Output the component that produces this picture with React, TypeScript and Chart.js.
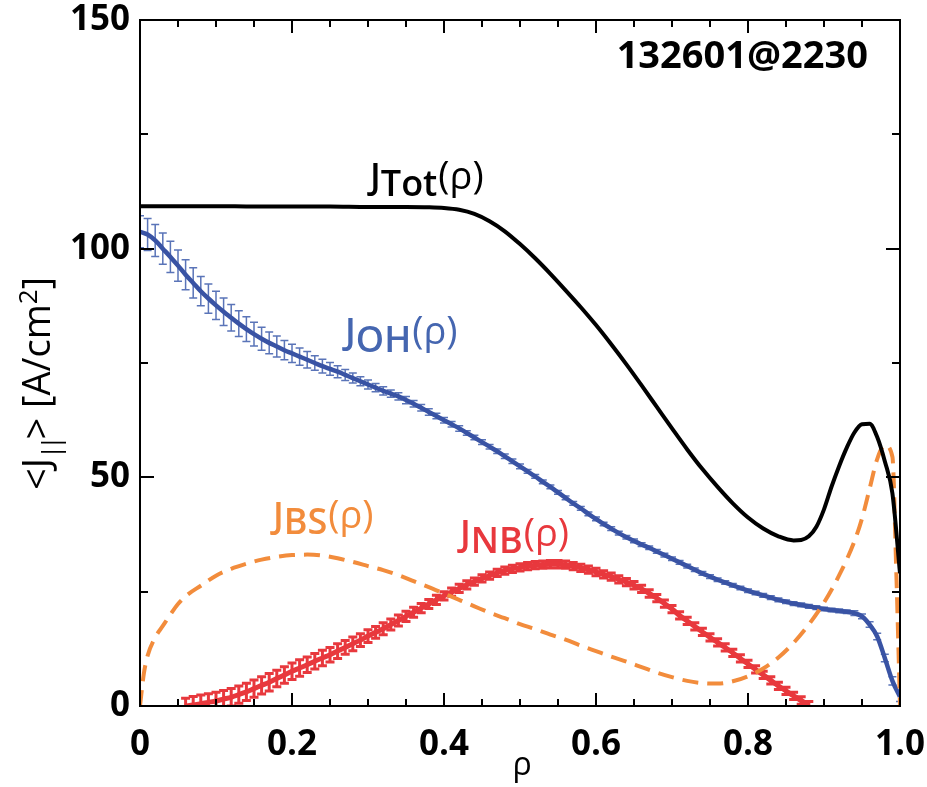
import { useEffect, useRef } from "react";
import { Chart, registerables } from "chart.js";

Chart.register(...registerables);

// ---------------- DATA ----------------
const RHO_FINE = [
  0, 0.01, 0.02, 0.03, 0.04, 0.05, 0.06, 0.07, 0.08, 0.09,
  0.1, 0.11, 0.12, 0.13, 0.14, 0.15, 0.16, 0.17, 0.18, 0.19,
  0.2, 0.21, 0.22, 0.23, 0.24, 0.25, 0.26, 0.27, 0.28, 0.29,
  0.3, 0.31, 0.32, 0.33, 0.34, 0.35, 0.36, 0.37, 0.38, 0.39,
  0.4, 0.41, 0.42, 0.43, 0.44, 0.45, 0.46, 0.47, 0.48, 0.49,
  0.5, 0.51, 0.52, 0.53, 0.54, 0.55, 0.56, 0.57, 0.58, 0.59,
  0.6, 0.61, 0.62, 0.63, 0.64, 0.65, 0.66, 0.67, 0.68, 0.69,
  0.7, 0.71, 0.72, 0.73, 0.74, 0.75, 0.76, 0.77, 0.78, 0.79,
  0.8, 0.81, 0.82, 0.83, 0.84, 0.85, 0.86, 0.87, 0.88, 0.89,
  0.9, 0.91, 0.92, 0.93, 0.94, 0.95, 0.96, 0.97, 0.98, 0.99, 1.0,
];

const J_OH = [
  103.7, 103.1, 101.8, 100.0, 98.2, 96.3, 94.3, 92.5, 90.7, 89.1,
  87.6, 86.2, 84.9, 83.6, 82.4, 81.3, 80.3, 79.4, 78.6, 77.8,
  77.1, 76.4, 75.7, 75.0, 74.3, 73.7, 73.1, 72.4, 71.7, 71.0,
  70.3, 69.6, 68.9, 68.3, 67.7, 66.9, 66.1, 65.2, 64.3, 63.4,
  62.5, 61.6, 60.7, 59.7, 58.7, 57.7, 56.7, 55.7, 54.6, 53.5,
  52.4, 51.3, 50.2, 49.0, 47.9, 46.7, 45.5, 44.3, 43.2, 42.0,
  40.9, 39.8, 38.8, 37.8, 36.9, 36.1, 35.3, 34.6, 33.8, 33.0,
  32.2, 31.4, 30.6, 29.8, 29.0, 28.3, 27.6, 27.0, 26.4, 25.8,
  25.2, 24.7, 24.2, 23.7, 23.2, 22.8, 22.4, 22.1, 21.8, 21.5,
  21.2, 21.0, 20.8, 20.6, 20.3, 19.6, 17.8, 15.2, 10.5, 5.5, 2.0,
];

const J_OH_ERR = [
  3.5, 3.5, 3.5, 3.4, 3.4, 3.4, 3.3, 3.3, 3.2, 3.2,
  3.1, 3.0, 2.9, 2.8, 2.7, 2.6, 2.5, 2.4, 2.3, 2.1,
  2.0, 1.9, 1.8, 1.6, 1.5, 1.4, 1.3, 1.2, 1.1, 1.0,
  1.0, 0.9, 0.9, 0.8, 0.8, 0.8, 0.7, 0.7, 0.7, 0.6,
  0.6, 0.6, 0.6, 0.5, 0.5, 0.5, 0.5, 0.5, 0.5, 0.5,
  0.5, 0.4, 0.4, 0.4, 0.4, 0.4, 0.4, 0.4, 0.4, 0.4,
  0.4, 0.4, 0.4, 0.4, 0.4, 0.4, 0.4, 0.4, 0.4, 0.4,
  0.4, 0.4, 0.4, 0.4, 0.4, 0.4, 0.4, 0.4, 0.4, 0.4,
  0.4, 0.4, 0.4, 0.4, 0.4, 0.4, 0.4, 0.4, 0.4, 0.4,
  0.4, 0.4, 0.4, 0.4, 0.5, 0.5, 0.6, 0.7, 0.8, 0.9, 1.0,
];

const RHO_NB = [
  0.06, 0.07, 0.08, 0.09,
  0.1, 0.11, 0.12, 0.13, 0.14, 0.15, 0.16, 0.17, 0.18, 0.19,
  0.2, 0.21, 0.22, 0.23, 0.24, 0.25, 0.26, 0.27, 0.28, 0.29,
  0.3, 0.31, 0.32, 0.33, 0.34, 0.35, 0.36, 0.37, 0.38, 0.39,
  0.4, 0.41, 0.42, 0.43, 0.44, 0.45, 0.46, 0.47, 0.48, 0.49,
  0.5, 0.51, 0.52, 0.53, 0.54, 0.55, 0.56, 0.57, 0.58, 0.59,
  0.6, 0.61, 0.62, 0.63, 0.64, 0.65, 0.66, 0.67, 0.68, 0.69,
  0.7, 0.71, 0.72, 0.73, 0.74, 0.75, 0.76, 0.77, 0.78, 0.79,
  0.8, 0.81, 0.82, 0.83, 0.84, 0.85, 0.86, 0.87, 0.88,
];

const J_NB = [
  0.0, 0.2, 0.5, 0.8,
  1.1, 1.5, 1.9, 2.5, 3.1, 3.8, 4.5, 5.2, 6.0, 6.8,
  7.6, 8.3, 9.0, 9.8, 10.5, 11.2, 12.0, 12.8, 13.6, 14.4,
  15.3, 16.1, 16.9, 17.8, 18.7, 19.6, 20.5, 21.4, 22.3, 23.2,
  24.1, 24.9, 25.7, 26.5, 27.2, 27.9, 28.5, 29.1, 29.6, 30.0,
  30.3, 30.6, 30.8, 30.9, 31.0, 31.0, 30.9, 30.6, 30.2, 29.8,
  29.3, 28.8, 28.3, 27.7, 27.1, 26.4, 25.6, 24.6, 23.6, 22.4,
  21.2, 19.8, 18.6, 17.4, 16.2, 15.0, 13.9, 12.8, 11.6, 10.4,
  9.2, 8.0, 6.8, 5.6, 4.4, 3.3, 2.2, 1.2, 0.2,
];

const J_NB_ERR = [
  1.7, 1.9, 1.9, 1.9,
  1.9, 1.9, 1.9, 1.9, 1.9, 1.9, 1.9, 1.9, 1.8, 1.8,
  1.8, 1.8, 1.7, 1.7, 1.7, 1.6, 1.6, 1.5, 1.5, 1.4,
  1.4, 1.3, 1.3, 1.2, 1.2, 1.1, 1.1, 1.0, 1.0, 1.0,
  0.9, 0.9, 0.9, 0.9, 0.8, 0.8, 0.8, 0.8, 0.8, 0.8,
  0.8, 0.8, 0.8, 0.8, 0.8, 0.8, 0.8, 0.8, 0.8, 0.8,
  0.8, 0.8, 0.8, 0.8, 0.8, 0.8, 0.8, 0.8, 0.8, 0.8,
  0.8, 0.8, 0.8, 0.8, 0.8, 0.8, 0.8, 0.8, 0.8, 0.8,
  0.8, 0.8, 0.8, 0.8, 0.8, 0.8, 0.8, 0.8, 0.8,
];

const RHO_TOT = [
  0, 0.05, 0.1, 0.15, 0.2, 0.25, 0.3, 0.35, 0.38, 0.4, 0.42, 0.44, 0.46, 0.48,
  0.5, 0.52, 0.54, 0.56, 0.58, 0.6, 0.62, 0.64, 0.66, 0.68, 0.7, 0.72,
  0.74, 0.76, 0.78, 0.8, 0.82, 0.84, 0.86, 0.87, 0.88, 0.89, 0.9, 0.91,
  0.92, 0.93, 0.94, 0.95, 0.96, 0.97, 0.98, 0.99, 1.0,
];
const J_TOT = [
  109.3, 109.3, 109.3, 109.2, 109.2, 109.2, 109.1, 109.1, 109.05, 108.9, 108.5, 107.6, 106.0, 103.8,
  101.0, 97.9, 94.5, 90.9, 87.2, 83.3, 79.1, 74.7, 70.1, 65.4, 60.7, 56.1,
  51.8, 47.9, 44.3, 41.2, 38.8, 37.1, 36.2, 36.3, 37.1, 39.2, 43.0, 48.0,
  52.5, 56.5, 59.8, 61.6, 61.7, 58.8, 53.5, 46.5, 29.0,
];

const RHO_BS = [
  0, 0.005, 0.01, 0.02, 0.03, 0.04, 0.05, 0.06, 0.08, 0.1, 0.12, 0.14,
  0.16, 0.18, 0.2, 0.22, 0.24, 0.26, 0.28, 0.3, 0.32, 0.34, 0.36, 0.38,
  0.4, 0.42, 0.44, 0.46, 0.48, 0.5, 0.52, 0.54, 0.56, 0.58, 0.6, 0.62,
  0.64, 0.66, 0.68, 0.7, 0.72, 0.74, 0.76, 0.78, 0.8, 0.82, 0.84, 0.86,
  0.88, 0.9, 0.92, 0.94, 0.95, 0.96, 0.97, 0.98, 0.99, 0.995, 1.0,
];
const J_BS = [
  0, 7.0, 11.0, 15.0, 17.5, 20.0, 22.3, 24.0, 26.3, 28.5, 30.0, 31.1,
  32.0, 32.6, 33.0, 33.1, 32.9, 32.3, 31.5, 30.6, 29.7, 28.6, 27.3, 26.0,
  24.6, 23.2, 21.8, 20.4, 19.2, 17.9, 16.8, 15.6, 14.5, 13.2, 12.0, 10.8,
  9.7, 8.5, 7.3, 6.3, 5.5, 5.0, 4.9, 5.4, 6.5, 8.2, 10.6, 13.8,
  17.8, 22.6, 28.6, 36.0, 41.0, 47.5, 54.0, 57.0, 54.5, 30.0, 0,
];

const X_TICKS_MINOR = [0.05, 0.1, 0.15, 0.25, 0.3, 0.35, 0.45, 0.5, 0.55, 0.65, 0.7, 0.75, 0.85, 0.9, 0.95];
const X_TICKS_MAJOR = [0.2, 0.4, 0.6, 0.8];
const Y_TICKS_MINOR = [25, 75, 125];
const Y_TICKS_MAJOR = [50, 100];

const SHOT_LABEL = "132601@2230";

// ---------------- STYLE ----------------
const FONT = '"Open Sans", "DejaVu Sans", sans-serif';
const C_BLACK = "#000000";
const C_BLUE = "#3953a4";
const C_BLUE_ERR = "#5a74b8";
const C_BLUE_TXT = "#4566b0";
const C_RED = "#e8383d";
const C_ORANGE = "#f28c3c";

const zip = (xs: number[], ys: number[]) => xs.map((x, i) => ({ x, y: ys[i] }));

const errPlugin = {
  id: "errbars",
  beforeDatasetDraw(chart: any, args: any) {
    const ds: any = chart.data.datasets[args.index];
    if (!ds.errors) return;
    const { ctx, chartArea: a } = chart;
    const xs = chart.scales.x;
    const ys = chart.scales.y;
    ctx.save();
    ctx.beginPath();
    ctx.rect(a.left, a.top, a.right - a.left, a.bottom - a.top);
    ctx.clip();
    ctx.strokeStyle = ds.errColor;
    ctx.lineWidth = ds.errWidth;
    ctx.beginPath();
    ds.data.forEach((p: any, j: number) => {
      const e = ds.errors[j];
      const px = xs.getPixelForValue(p.x);
      const top = ys.getPixelForValue(p.y + e);
      const bot = ys.getPixelForValue(p.y - e);
      ctx.moveTo(px, top);
      ctx.lineTo(px, bot);
      ctx.moveTo(px - ds.capHalf, top);
      ctx.lineTo(px + ds.capHalf, top);
      ctx.moveTo(px - ds.capHalf, bot);
      ctx.lineTo(px + ds.capHalf, bot);
    });
    ctx.stroke();
    ctx.restore();
  },
};

function drawSubLabel(
  ctx: CanvasRenderingContext2D,
  x0: number,
  base: number,
  main: string,
  sub: string,
  tail: string,
  color: string,
  size: number,
  subDrop: number
) {
  ctx.save();
  ctx.fillStyle = color;
  ctx.textAlign = "left";
  ctx.textBaseline = "alphabetic";
  ctx.font = `600 ${size}px ${FONT}`;
  ctx.fillText(main, x0, base);
  let x = x0 + ctx.measureText(main).width;
  ctx.font = `600 ${size}px ${FONT}`;
  ctx.fillText(sub, x, base + subDrop);
  x += ctx.measureText(sub).width + 1;
  ctx.font = `500 ${size + 2}px ${FONT}`;
  ctx.fillText(tail, x, base);
  ctx.restore();
}

const framePlugin = {
  id: "frame",
  afterDraw(chart: any) {
    const { ctx, chartArea: a } = chart;
    const xs = chart.scales.x;
    const ys = chart.scales.y;
    ctx.save();
    ctx.strokeStyle = "#000";
    ctx.lineWidth = 2;
    ctx.strokeRect(a.left, a.top, a.right - a.left, a.bottom - a.top);
    ctx.beginPath();
    const xt = (v: number, len: number) => {
      const px = Math.round(xs.getPixelForValue(v));
      ctx.moveTo(px, a.bottom);
      ctx.lineTo(px, a.bottom - len);
      ctx.moveTo(px, a.top);
      ctx.lineTo(px, a.top + len);
    };
    const yt = (v: number, len: number) => {
      const py = Math.round(ys.getPixelForValue(v));
      ctx.moveTo(a.left, py);
      ctx.lineTo(a.left + len, py);
      ctx.moveTo(a.right, py);
      ctx.lineTo(a.right - len, py);
    };
    X_TICKS_MINOR.forEach((v) => xt(v, 7));
    X_TICKS_MAJOR.forEach((v) => xt(v, 13));
    Y_TICKS_MINOR.forEach((v) => yt(v, 8));
    Y_TICKS_MAJOR.forEach((v) => yt(v, 14));
    ctx.stroke();

    // shot label
    ctx.fillStyle = "#000";
    ctx.font = `bold 38px ${FONT}`;
    ctx.textAlign = "right";
    ctx.textBaseline = "alphabetic";
    ctx.fillText(SHOT_LABEL, 868, 68);

    // curve labels
    drawSubLabel(ctx, 370, 189, "J", "Tot", "(ρ)", C_BLACK, 36, 7);
    drawSubLabel(ctx, 345, 344, "J", "OH", "(ρ)", C_BLUE_TXT, 36, 8);
    drawSubLabel(ctx, 273, 528, "J", "BS", "(ρ)", C_ORANGE, 36, 6);
    drawSubLabel(ctx, 460, 546, "J", "NB", "(ρ)", C_RED, 36, 7);

    // x title
    ctx.fillStyle = "#000";
    ctx.font = `500 32px ${FONT}`;
    ctx.textAlign = "center";
    ctx.fillText("ρ", 522, 775);

    // y title (rotated)
    ctx.translate(50, 490);
    ctx.rotate(-Math.PI / 2);
    ctx.textAlign = "left";
    let x = 0;
    ctx.font = `500 38px ${FONT}`;
    ctx.fillText("<J", x, 0);
    x += ctx.measureText("<J").width;
    ctx.font = `500 26px ${FONT}`;
    (ctx as any).letterSpacing = "-5px";
    ctx.fillText("||", x - 1, 10);
    x += ctx.measureText("||").width;
    (ctx as any).letterSpacing = "0px";
    ctx.font = `500 38px ${FONT}`;
    ctx.fillText("> [A/cm", x, 0);
    x += ctx.measureText("> [A/cm").width;
    ctx.font = `500 26px ${FONT}`;
    ctx.fillText("2", x, -13);
    x += ctx.measureText("2").width;
    ctx.font = `500 38px ${FONT}`;
    ctx.fillText("]", x, 0);
    ctx.restore();
  },
};

export default function App() {
  const ref = useRef<HTMLCanvasElement | null>(null);

  useEffect(() => {
    document.body.style.margin = "0";
    const canvas = ref.current;
    if (!canvas) return;
    const chart = new Chart(canvas, {
      type: "scatter",
      data: {
        datasets: [
          {
            label: "JNB",
            data: zip(RHO_NB, J_NB),
            showLine: true,
            borderColor: C_RED,
            borderWidth: 5,
            pointRadius: 0,
            cubicInterpolationMode: "monotone",
            errors: J_NB_ERR,
            errColor: C_RED,
            errWidth: 3,
            capHalf: 4.5,
            order: 4,
          } as any,
          {
            label: "JOH",
            data: zip(RHO_FINE, J_OH),
            showLine: true,
            borderColor: C_BLUE,
            borderWidth: 4.5,
            pointRadius: 0,
            cubicInterpolationMode: "monotone",
            errors: J_OH_ERR,
            errColor: C_BLUE_ERR,
            errWidth: 1.5,
            capHalf: 4,
            order: 3,
          } as any,
          {
            label: "JBS",
            data: zip(RHO_BS, J_BS),
            showLine: true,
            borderColor: C_ORANGE,
            borderWidth: 4,
            borderDash: [16, 9],
            pointRadius: 0,
            cubicInterpolationMode: "monotone",
            order: 2,
          } as any,
          {
            label: "JTot",
            data: zip(RHO_TOT, J_TOT),
            showLine: true,
            borderColor: C_BLACK,
            borderWidth: 4,
            pointRadius: 0,
            cubicInterpolationMode: "monotone",
            order: 1,
          } as any,
        ],
      },
      options: {
        responsive: false,
        animation: false,
        layout: { padding: { top: 20, right: 27, left: 0, bottom: 0 } },
        plugins: { legend: { display: false }, tooltip: { enabled: false } },
        scales: {
          x: {
            type: "linear",
            min: 0,
            max: 1,
            grid: { display: false, drawTicks: false },
            border: { display: false },
            ticks: {
              stepSize: 0.2,
              padding: 18,
              color: "#000",
              font: { family: FONT, weight: "bold", size: 35 },
              callback: (v: any) => (Number(v) === 0 ? "0" : Number(v).toFixed(1)),
            },
            afterFit: (s: any) => {
              s.height = 81;
              s.paddingLeft = 0;
              s.paddingRight = 0;
            },
          },
          y: {
            type: "linear",
            min: 0,
            max: 150,
            grid: { display: false, drawTicks: false },
            border: { display: false },
            ticks: {
              stepSize: 50,
              padding: 10,
              color: "#000",
              font: { family: FONT, weight: "bold", size: 35 },
            },
            afterFit: (s: any) => {
              s.width = 140;
              s.paddingTop = 0;
              s.paddingBottom = 0;
            },
          },
        },
      } as any,
      plugins: [errPlugin, framePlugin],
    });
    return () => chart.destroy();
  }, []);

  return <canvas ref={ref} width={927} height={787} style={{ display: "block" }} />;
}
